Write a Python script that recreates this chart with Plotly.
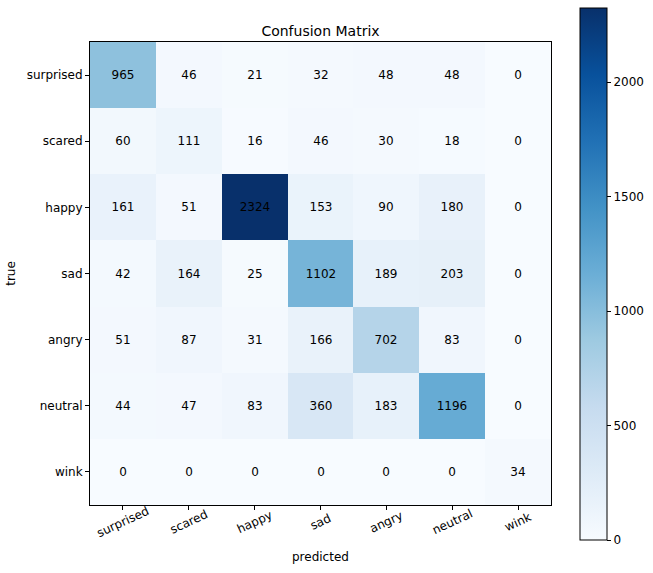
import plotly.graph_objects as go

labels = ["surprised", "scared", "happy", "sad", "angry", "neutral", "wink"]
row_surprised = [965, 46, 21, 32, 48, 48, 0]
row_scared = [60, 111, 16, 46, 30, 18, 0]
row_happy = [161, 51, 2324, 153, 90, 180, 0]
row_sad = [42, 164, 25, 1102, 189, 203, 0]
row_angry = [51, 87, 31, 166, 702, 83, 0]
row_neutral = [44, 47, 83, 360, 183, 1196, 0]
row_wink = [0, 0, 0, 0, 0, 0, 34]
matrix = [row_surprised, row_scared, row_happy, row_sad, row_angry, row_neutral, row_wink]
cbar_ticks = [0, 500, 1000, 1500, 2000]

blues = ["#f7fbff", "#deebf7", "#c6dbef", "#9ecae1", "#6baed6",
         "#4292c6", "#2171b5", "#08519c", "#08306b"]
colorscale = [[i / (len(blues) - 1), c] for i, c in enumerate(blues)]

W, H = 653, 573
L, R, T, B = 90, 551, 42, 505
pw, ph = R - L, B - T
FS = 12

fig = go.Figure(go.Heatmap(
    z=matrix, x=labels, y=labels,
    colorscale=colorscale, zmin=0, zmax=max(max(r) for r in matrix),
    text=matrix, texttemplate="%{text}",
    textfont=dict(family="DejaVu Sans", size=FS, color="black"),
    colorbar=dict(
        x=(580 - L) / pw, xanchor="left", xpad=0,
        y=(B - (8 + 540) / 2) / ph, yanchor="middle", ypad=0,
        lenmode="pixels", len=532, thickness=27,
        outlinecolor="black", outlinewidth=1,
        tickvals=cbar_ticks, ticks="outside", ticklen=4, tickcolor="black",
        tickfont=dict(family="DejaVu Sans", size=FS, color="black"),
    ),
))

# rotated x tick labels centred under ticks (matplotlib style)
for lab in labels:
    fig.add_annotation(
        x=lab, xref="x", y=-(522 - B) / ph, yref="paper",
        text=lab, textangle=-25, showarrow=False,
        xanchor="center", yanchor="middle",
        font=dict(family="DejaVu Sans", size=FS, color="black"),
    )
fig.add_annotation(
    x=0.5, xref="paper", y=-(557 - B) / ph, yref="paper",
    text="predicted", showarrow=False, xanchor="center", yanchor="middle",
    font=dict(family="DejaVu Sans", size=FS, color="black"),
)

fig.update_layout(
    width=W, height=H,
    margin=dict(l=L, r=W - R, t=T, b=H - B, autoexpand=False),
    paper_bgcolor="white", plot_bgcolor="white",
    font=dict(family="DejaVu Sans", size=FS, color="black"),
    title=dict(text="Confusion Matrix", x=(L + R) / 2 / W, xanchor="center",
               y=1 - 31 / H, yanchor="middle",
               font=dict(family="DejaVu Sans", size=14, color="black")),
)
fig.update_xaxes(
    showticklabels=False,
    ticks="outside", ticklen=4, tickcolor="black",
    showline=True, linecolor="black", linewidth=1, mirror=True,
    showgrid=False, zeroline=False,
)
fig.update_yaxes(
    title=dict(text="true", font=dict(size=FS), standoff=8),
    autorange="reversed", ticks="outside", ticklen=4, tickcolor="black",
    tickfont=dict(size=FS),
    showline=True, linecolor="black", linewidth=1, mirror=True,
    showgrid=False, zeroline=False,
)

fig.write_html("out.html")
